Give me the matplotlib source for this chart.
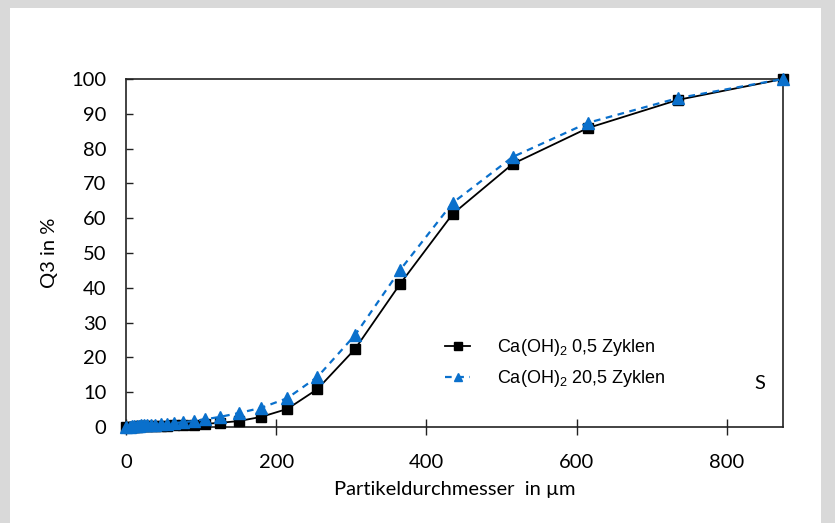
import matplotlib
matplotlib.use('Agg')
import matplotlib.pyplot as plt
from matplotlib.patches import Rectangle
from matplotlib.lines import Line2D
from matplotlib.legend_handler import HandlerLine2D

# particle size distribution, cumulative Q3
diameter = [0, 5, 8, 11, 14, 17, 20, 24, 28, 33, 39, 46, 54, 64, 76, 90,
            105, 125, 150, 180, 215, 255, 305, 365, 435, 515, 615, 735, 875]
q3_05 = [0, 0.05, 0.08, 0.1, 0.12, 0.15, 0.18, 0.2, 0.22, 0.25, 0.3, 0.35,
         0.4, 0.45, 0.55, 0.7, 0.9, 1.2, 1.7, 2.9, 5.2, 10.9, 22.4, 41.1,
         61.2, 75.6, 85.9, 94.0, 100]
q3_205 = [0, 0.1, 0.2, 0.3, 0.35, 0.4, 0.45, 0.5, 0.55, 0.6, 0.7, 0.8,
          0.9, 1.1, 1.4, 1.7, 2.2, 2.9, 4.0, 5.5, 8.3, 14.4, 26.4, 45.1,
          64.4, 77.6, 87.4, 94.5, 100]

label_05 = 'Ca(OH)$_\\mathrm{2}$ 0,5 Zyklen'
label_205 = 'Ca(OH)$_\\mathrm{2}$ 20,5 Zyklen'
yticks = list(range(0, 101, 10))
xticks = [0, 200, 400, 600, 800]


class RightMarkerHandler(HandlerLine2D):
    # legend sample with the marker sitting near the right end of the line
    def get_xdata(self, legend, xdescent, ydescent, width, height, fontsize):
        xdata = [-xdescent, -xdescent + width]
        return xdata, [-xdescent + 0.75 * width]


plt.rcParams['mathtext.fontset'] = 'custom'
plt.rcParams['mathtext.rm'] = 'Liberation Sans'

fig = plt.figure(figsize=(8.35, 5.23), dpi=100)
fig.patch.set_facecolor('#d9d9d9')
fig.patches.append(Rectangle((10 / 835, 0), 811 / 835, 1 - 8 / 523,
                             transform=fig.transFigure, facecolor='white',
                             edgecolor='none', zorder=-10))

ax = fig.add_axes([126 / 835, 1 - 427 / 523, 657 / 835, 348 / 523])
ax.set_facecolor('none')

blue = '#0a70cc'
ax.plot(diameter, q3_05, color='black', lw=1.3, marker='s', ms=7.5,
        mfc='black', mec='black', label=label_05, zorder=3, clip_on=False)
ax.plot(diameter, q3_205, color=blue, lw=1.6, ls=(0, (3, 2.5)), marker='^',
        ms=8, mfc=blue, mec=blue, label=label_205, zorder=4, clip_on=False)

ax.set_xlim(0, 875)
ax.set_ylim(0, 100)
ax.set_xticks(xticks)
ax.set_yticks(yticks)

tick_font = dict(family='Lato', size=14.5)
ax.set_xticklabels([str(t) for t in xticks], **tick_font)
ax.set_yticklabels([str(t) for t in yticks], **tick_font)
ax.tick_params(axis='y', direction='in', length=5, width=1, pad=14,
               color='#222222')
ax.tick_params(axis='x', direction='inout', length=11, width=1, pad=14,
               color='#222222')

for s in ax.spines.values():
    s.set_color('#222222')
    s.set_linewidth(1.2)

ax.set_xlabel('Partikeldurchmesser  in µm', family='Lato', size=14.5,
              labelpad=7)
ax.set_ylabel('Q3 in %', family='Lato', size=14.5, labelpad=10)

ax.legend(loc='center left', bbox_to_anchor=(445 / 835, 1 - 363 / 523),
          bbox_transform=fig.transFigure, frameon=False, borderpad=0,
          borderaxespad=0, prop={'family': 'Liberation Sans', 'size': 13},
          handlelength=1.4, handletextpad=1.5, labelspacing=0.55,
          markerscale=0.8, handler_map={Line2D: RightMarkerHandler()})

ax.text(0.965, 0.125, 'S', transform=ax.transAxes, family='Lato', size=14.5,
        ha='center', va='center')

fig.savefig('out.png', dpi=100)
